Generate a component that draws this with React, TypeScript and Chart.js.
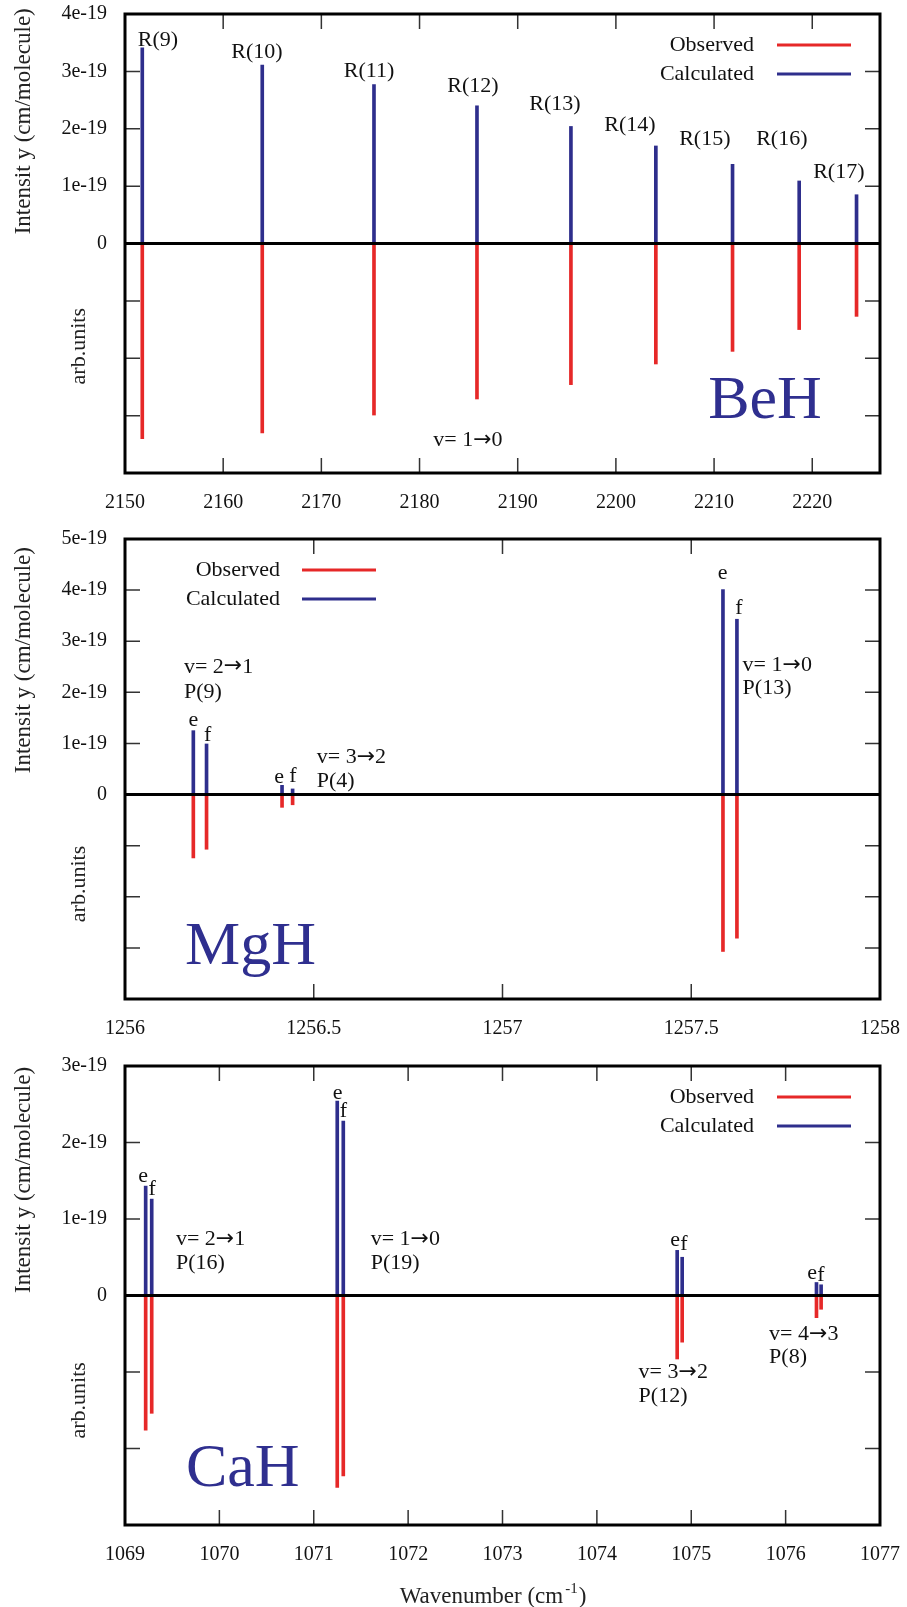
import React, { useEffect, useRef } from "react";
import { Chart, registerables } from "chart.js";
Chart.register(...registerables);

const FONT = "'Liberation Serif', 'DejaVu Serif', serif";
const ARROW_FONT = "'DejaVu Sans', sans-serif";
const BLUE = "#2e2e8c";
const RED = "#e62828";
const NAVY = "#2f2f8f";

// ---------- BeH (intensities in units of 1e-19) ----------
const beWavenumber = [2151.76, 2163.98, 2175.36, 2185.85, 2195.42, 2204.07, 2211.88, 2218.67, 2224.51];
const beCalculated = [3.41, 3.11, 2.77, 2.40, 2.04, 1.70, 1.38, 1.09, 0.85];
const beObserved = [3.40, 3.30, 2.99, 2.71, 2.46, 2.10, 1.88, 1.50, 1.27];
const beXTicks = [2150, 2160, 2170, 2180, 2190, 2200, 2210, 2220];
const beXTickLabels = ["2150", "2160", "2170", "2180", "2190", "2200", "2210", "2220"];
const beYTicks = [-4, -3, -2, -1, 0, 1, 2, 3, 4];
const beYTickLabels = ["", "", "", "", "0", "1e-19", "2e-19", "3e-19", "4e-19"];
const beLabels = [
  { text: "R(9)", x: 2153.36, y: 3.55, align: "center" },
  { text: "R(10)", x: 2163.44, y: 3.33, align: "center" },
  { text: "R(11)", x: 2174.85, y: 3.0, align: "center" },
  { text: "R(12)", x: 2185.44, y: 2.74, align: "center" },
  { text: "R(13)", x: 2193.79, y: 2.42, align: "center" },
  { text: "R(14)", x: 2201.43, y: 2.07, align: "center" },
  { text: "R(15)", x: 2209.06, y: 1.81, align: "center" },
  { text: "R(16)", x: 2216.9, y: 1.81, align: "center" },
  { text: "R(17)", x: 2222.71, y: 1.25, align: "center" },
  { text: "v= 1\u21920", x: 2184.93, y: -3.43, align: "center" },
];

// ---------- MgH ----------
const mgWavenumber = [1256.181, 1256.216, 1256.416, 1256.444, 1257.584, 1257.621];
const mgCalculated = [1.25, 0.99, 0.18, 0.11, 4.01, 3.43];
const mgObserved = [1.24, 1.07, 0.25, 0.2, 3.07, 2.81];
const mgXTicks = [1256, 1256.5, 1257, 1257.5, 1258];
const mgXTickLabels = ["1256", "1256.5", "1257", "1257.5", "1258"];
const mgYTicks = [-4, -3, -2, -1, 0, 1, 2, 3, 4, 5];
const mgYTickLabels = ["", "", "", "", "0", "1e-19", "2e-19", "3e-19", "4e-19", "5e-19"];
const mgLabels = [
  { text: "e", x: 1256.181, y: 1.457, align: "center" },
  { text: "f", x: 1256.219, y: 1.163, align: "center" },
  { text: "v= 2\u21921", x: 1256.156, y: 2.5, align: "left" },
  { text: "P(9)", x: 1256.156, y: 2.01, align: "left" },
  { text: "e", x: 1256.408, y: 0.345, align: "center" },
  { text: "f", x: 1256.445, y: 0.36, align: "center" },
  { text: "v= 3\u21922", x: 1256.508, y: 0.737, align: "left" },
  { text: "P(4)", x: 1256.508, y: 0.267, align: "left" },
  { text: "e", x: 1257.583, y: 4.34, align: "center" },
  { text: "f", x: 1257.626, y: 3.65, align: "center" },
  { text: "v= 1\u21920", x: 1257.636, y: 2.535, align: "left" },
  { text: "P(13)", x: 1257.636, y: 2.08, align: "left" },
];

// ---------- CaH ----------
const caWavenumber = [1069.219, 1069.283, 1071.249, 1071.313, 1074.851, 1074.904, 1076.327, 1076.376];
const caCalculated = [1.43, 1.26, 2.54, 2.28, 0.59, 0.5, 0.17, 0.14];
const caObserved = [1.76, 1.54, 2.51, 2.36, 0.83, 0.61, 0.29, 0.18];
const caXTicks = [1069, 1070, 1071, 1072, 1073, 1074, 1075, 1076, 1077];
const caXTickLabels = ["1069", "1070", "1071", "1072", "1073", "1074", "1075", "1076", "1077"];
const caYTicks = [-3, -2, -1, 0, 1, 2, 3];
const caYTickLabels = ["", "", "", "0", "1e-19", "2e-19", "3e-19"];
const caLabels = [
  { text: "e", x: 1069.191, y: 1.557, align: "center" },
  { text: "f", x: 1069.289, y: 1.393, align: "center" },
  { text: "v= 2\u21921", x: 1069.54, y: 0.731, align: "left" },
  { text: "P(16)", x: 1069.54, y: 0.427, align: "left" },
  { text: "e", x: 1071.253, y: 2.646, align: "center" },
  { text: "f", x: 1071.313, y: 2.406, align: "center" },
  { text: "v= 1\u21920", x: 1071.603, y: 0.731, align: "left" },
  { text: "P(19)", x: 1071.603, y: 0.427, align: "left" },
  { text: "e", x: 1074.829, y: 0.718, align: "center" },
  { text: "f", x: 1074.922, y: 0.666, align: "center" },
  { text: "v= 3\u21922", x: 1074.442, y: -1.009, align: "left" },
  { text: "P(12)", x: 1074.442, y: -1.315, align: "left" },
  { text: "e", x: 1076.281, y: 0.296, align: "center" },
  { text: "f", x: 1076.373, y: 0.261, align: "center" },
  { text: "v= 4\u21923", x: 1075.825, y: -0.509, align: "left" },
  { text: "P(8)", x: 1075.825, y: -0.813, align: "left" },
];

const panels = [
  {
    top: 0, height: 520, areaTop: 14, areaBottom: 473,
    xMin: 2150, xMax: 2226.9, yMin: -4, yMax: 4,
    x: beWavenumber, calc: beCalculated, obs: beObserved,
    xTicks: beXTicks, xTickLabels: beXTickLabels, yTicks: beYTicks, yTickLabels: beYTickLabels,
    labels: beLabels, molecule: { text: "BeH", x: 2209.4, y: -3.05 },
    legendSide: "right", titleAt: 2.13, arbAt: -1.79, xTitle: false,
  },
  {
    top: 520, height: 530, areaTop: 539, areaBottom: 999,
    xMin: 1256, xMax: 1258, yMin: -4, yMax: 5,
    x: mgWavenumber, calc: mgCalculated, obs: mgObserved,
    xTicks: mgXTicks, xTickLabels: mgXTickLabels, yTicks: mgYTicks, yTickLabels: mgYTickLabels,
    labels: mgLabels, molecule: { text: "MgH", x: 1256.159, y: -3.31 },
    legendSide: "left", titleAt: 2.63, arbAt: -1.75, xTitle: false,
  },
  {
    top: 1050, height: 557, areaTop: 1066, areaBottom: 1525,
    xMin: 1069, xMax: 1077, yMin: -3, yMax: 3,
    x: caWavenumber, calc: caCalculated, obs: caObserved,
    xTicks: caXTicks, xTickLabels: caXTickLabels, yTicks: caYTicks, yTickLabels: caYTickLabels,
    labels: caLabels, molecule: { text: "CaH", x: 1069.646, y: -2.49 },
    legendSide: "right", titleAt: 1.51, arbAt: -1.37, xTitle: true,
  },
];

const AREA_LEFT = 125;
const AREA_RIGHT = 880;
const WIDTH = 907;

// draw text where arrows use a font with a proper long arrow
function drawMixed(ctx: CanvasRenderingContext2D, text: string, x: number, y: number, align: string, size: number) {
  const parts = text.split("\u2192");
  const segs: { t: string; f: string }[] = [];
  parts.forEach((t, i) => {
    if (t) segs.push({ t, f: `${size}px ${FONT}` });
    if (i < parts.length - 1) segs.push({ t: "\u2192", f: `${size}px ${ARROW_FONT}` });
  });
  let total = 0;
  const widths = segs.map((s) => {
    ctx.font = s.f;
    const w = ctx.measureText(s.t).width;
    total += w;
    return w;
  });
  let cx = align === "center" ? x - total / 2 : align === "right" ? x - total : x;
  ctx.textAlign = "left";
  segs.forEach((s, i) => {
    ctx.font = s.f;
    ctx.fillText(s.t, cx, y);
    cx += widths[i];
  });
}

function makeDecor(p: any) {
  return {
    id: "decor",
    afterDatasetsDraw(chart: any) {
      const ctx = chart.ctx as CanvasRenderingContext2D;
      const a = chart.chartArea;
      const xs = chart.scales.x;
      const ys = chart.scales.y;
      ctx.save();
      // zero line
      const y0 = ys.getPixelForValue(0);
      ctx.strokeStyle = "#000";
      ctx.lineWidth = 3;
      ctx.beginPath();
      ctx.moveTo(a.left, y0);
      ctx.lineTo(a.right, y0);
      ctx.stroke();
      // ticks (inward on all four sides)
      ctx.strokeStyle = "#333";
      ctx.lineWidth = 1.5;
      const TL = 15;
      ctx.beginPath();
      p.xTicks.forEach((v: number) => {
        if (v === p.xMin || v === p.xMax) return;
        const px = xs.getPixelForValue(v);
        ctx.moveTo(px, a.bottom);
        ctx.lineTo(px, a.bottom - TL);
        ctx.moveTo(px, a.top);
        ctx.lineTo(px, a.top + TL);
      });
      p.yTicks.forEach((v: number) => {
        if (v === p.yMin || v === p.yMax || v === 0) return;
        const py = ys.getPixelForValue(v);
        ctx.moveTo(a.left, py);
        ctx.lineTo(a.left + TL, py);
        ctx.moveTo(a.right, py);
        ctx.lineTo(a.right - TL, py);
      });
      ctx.stroke();
      // frame
      ctx.strokeStyle = "#000";
      ctx.lineWidth = 3;
      ctx.strokeRect(a.left, a.top, a.right - a.left, a.bottom - a.top);

      // annotation labels
      ctx.fillStyle = "#111";
      ctx.textBaseline = "middle";
      p.labels.forEach((l: any) => {
        drawMixed(ctx, l.text, xs.getPixelForValue(l.x), ys.getPixelForValue(l.y), l.align, 22);
      });
      // molecule name
      ctx.fillStyle = NAVY;
      ctx.font = `62px ${FONT}`;
      ctx.textAlign = "left";
      ctx.textBaseline = "alphabetic";
      ctx.fillText(p.molecule.text, xs.getPixelForValue(p.molecule.x), ys.getPixelForValue(p.molecule.y));

      // legend
      const entries = [
        { text: "Observed", color: RED, dy: 31 },
        { text: "Calculated", color: BLUE, dy: 60 },
      ];
      ctx.font = `22px ${FONT}`;
      ctx.textBaseline = "middle";
      entries.forEach((e) => {
        let tr, l1, l2;
        if (p.legendSide === "right") {
          tr = a.right - 126; l1 = a.right - 103; l2 = a.right - 29;
        } else {
          tr = a.left + 155; l1 = a.left + 177; l2 = a.left + 251;
        }
        const y = a.top + e.dy;
        ctx.fillStyle = "#111";
        ctx.textAlign = "right";
        ctx.fillText(e.text, tr, y);
        ctx.strokeStyle = e.color;
        ctx.lineWidth = 3;
        ctx.beginPath();
        ctx.moveTo(l1, y);
        ctx.lineTo(l2, y);
        ctx.stroke();
      });

      // y-axis titles
      ctx.fillStyle = "#222";
      ctx.textAlign = "center";
      ctx.textBaseline = "middle";
      const drawRot = (text: string, x: number, y: number) => {
        ctx.save();
        ctx.translate(x, y);
        ctx.rotate(-Math.PI / 2);
        ctx.fillText(text, 0, 0);
        ctx.restore();
      };
      ctx.font = `23px ${FONT}`;
      drawRot("Intensit y (cm/molecule)", 24, ys.getPixelForValue(p.titleAt));
      ctx.font = `22px ${FONT}`;
      drawRot("arb.units", 79, ys.getPixelForValue(p.arbAt));

      // x-axis title
      if (p.xTitle) {
        const cx = 493;
        const cy = a.bottom + 72;
        const f1 = `23px ${FONT}`;
        const f2 = `15px ${FONT}`;
        const t1 = "Wavenumber (cm";
        const t2 = "-1";
        const t3 = ")";
        ctx.font = f1;
        const w1 = ctx.measureText(t1).width;
        const w3 = ctx.measureText(t3).width;
        ctx.font = f2;
        const w2 = ctx.measureText(t2).width;
        const total = w1 + w2 + 3 + w3;
        let x = cx - total / 2;
        ctx.textAlign = "left";
        ctx.textBaseline = "middle";
        ctx.fillStyle = "#222";
        ctx.font = f1;
        ctx.fillText(t1, x, cy);
        x += w1 + 2;
        ctx.font = f2;
        ctx.fillText(t2, x, cy - 8);
        x += w2 + 1;
        ctx.font = f1;
        ctx.fillText(t3, x, cy);
      }
      ctx.restore();
    },
  };
}

function Panel({ p }: { p: any }) {
  const ref = useRef<HTMLCanvasElement | null>(null);
  useEffect(() => {
    if (!ref.current) return;
    const padTop = p.areaTop - p.top;
    const xHeight = p.top + p.height - p.areaBottom;
    const chart = new Chart(ref.current, {
      type: "bar",
      data: {
        datasets: [
          {
            label: "Observed",
            data: p.x.map((v: number, i: number) => ({ x: v, y: -p.obs[i] })),
            backgroundColor: RED,
            borderWidth: 0,
            barThickness: 3,
            grouped: false,
          } as any,
          {
            label: "Calculated",
            data: p.x.map((v: number, i: number) => ({ x: v, y: p.calc[i] })),
            backgroundColor: BLUE,
            borderWidth: 0,
            barThickness: 3,
            grouped: false,
          } as any,
        ],
      },
      options: {
        responsive: false,
        animation: false,
        devicePixelRatio: 1,
        layout: { padding: { left: 0, right: WIDTH - AREA_RIGHT, top: padTop, bottom: 0 } },
        plugins: { legend: { display: false }, tooltip: { enabled: false } },
        scales: {
          x: {
            type: "linear",
            min: p.xMin,
            max: p.xMax,
            offset: false,
            grid: { display: false, drawTicks: true, tickLength: 18 },
            border: { display: false },
            afterBuildTicks: (s: any) => {
              s.ticks = p.xTicks.map((v: number) => ({ value: v }));
            },
            afterFit: (s: any) => {
              s.height = xHeight;
            },
            ticks: {
              autoSkip: false,
              maxRotation: 0,
              padding: 0,
              color: "#111",
              font: { family: FONT, size: 20 },
              callback: (v: any) => {
                const i = p.xTicks.indexOf(v);
                return i >= 0 ? p.xTickLabels[i] : "";
              },
            },
          },
          y: {
            type: "linear",
            min: p.yMin,
            max: p.yMax,
            grid: { display: false, drawTicks: true, tickLength: 18 },
            border: { display: false },
            afterBuildTicks: (s: any) => {
              s.ticks = p.yTicks.map((v: number) => ({ value: v }));
            },
            afterFit: (s: any) => {
              s.width = AREA_LEFT;
            },
            ticks: {
              autoSkip: false,
              padding: 0,
              color: "#111",
              font: { family: FONT, size: 20 },
              callback: (v: any) => {
                const i = p.yTicks.indexOf(v);
                return i >= 0 ? p.yTickLabels[i] : "";
              },
            },
          },
        },
      } as any,
      plugins: [makeDecor(p)],
    });
    return () => chart.destroy();
  }, [p]);
  return (
    <canvas
      ref={ref}
      width={WIDTH}
      height={p.height}
      style={{ position: "absolute", left: 0, top: p.top, width: WIDTH, height: p.height, display: "block" }}
    />
  );
}

export default function App() {
  return (
    <div style={{ position: "absolute", left: 0, top: 0, width: WIDTH, height: 1607, background: "#fff" }}>
      {panels.map((p, i) => (
        <Panel key={i} p={p} />
      ))}
    </div>
  );
}
